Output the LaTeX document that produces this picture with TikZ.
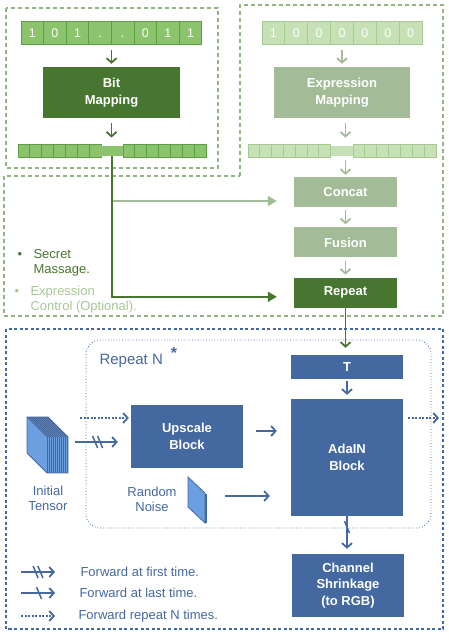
\documentclass[tikz,border=0pt]{standalone}
\usepackage{fontspec}
\setmainfont{Liberation Sans}
\usetikzlibrary{positioning,calc,arrows.meta}
\definecolor{darkgreen}{HTML}{46762F}
\definecolor{bitgreen}{HTML}{8CC46E}
\definecolor{bitedge}{HTML}{5E9E44}
\definecolor{exprgreen}{HTML}{C7E1B6}
\definecolor{expredge}{HTML}{A6CB92}
\definecolor{mapgreen}{HTML}{A3BC97}
\definecolor{dashgreen}{HTML}{93B582}
\definecolor{legendgreen}{HTML}{A6C795}
\definecolor{netblue}{HTML}{4468A0}
\definecolor{skyblue}{HTML}{6C9FE0}
\tikzset{
  box/.style={rectangle,inner sep=0,text=white,align=center,font=\fontsize{13}{16.5}\selectfont\bfseries},
  bitbox/.style={box,fill=darkgreen},
  exprbox/.style={box,fill=mapgreen},
  bluebox/.style={box,fill=netblue},
  % cells of the input codes
  bitcell/.style={rectangle,draw=bitedge,fill=bitgreen,line width=1pt,inner sep=0,minimum height=23,
                  text height=8.6pt,text depth=0pt,text=white,font=\fontsize{12.5}{12.5}\selectfont},
  exprcell/.style={bitcell,draw=expredge,fill=exprgreen},
  % cells of the mapped vectors
  bitslot/.style={rectangle,draw=bitedge,fill=bitgreen,line width=0.8pt,inner sep=0,minimum width=11.86,minimum height=13},
  exprslot/.style={bitslot,draw=expredge,fill=exprgreen},
  midslot/.style={rectangle,inner sep=0,minimum width=22,minimum height=10},
  greendash/.style={draw=dashgreen,line width=1.6pt,dash pattern=on 4pt off 3pt},
  bluedash/.style={draw=netblue,line width=1.6pt,dash pattern=on 3pt off 2.5pt},
  loopbox/.style={draw=netblue,line width=0.8pt,dotted,rounded corners=14pt},
  garrow/.style={-{Straight Barb[length=4.5pt,width=10pt]},line width=1.8pt,draw=darkgreen},
  larrow/.style={-{Straight Barb[length=4.5pt,width=10pt]},line width=1.8pt,draw=mapgreen},
  gline/.style={-{Triangle[length=9pt,width=10pt]},line width=1.8pt,draw=darkgreen},
  lline/.style={-{Triangle[length=9pt,width=10pt]},line width=1.8pt,draw=mapgreen},
  barrow/.style={-{Straight Barb[length=4.5pt,width=10pt]},line width=1.8pt,draw=netblue},
  dotarrow/.style={barrow,dash pattern=on 2pt off 1.5pt},
  bluetext/.style={text=netblue,font=\fontsize{13}{15}\selectfont},
  cutmark/.pic={\draw[line width=1.5pt,netblue] (-2.5,-6) -- (2.5,6);},
}
\begin{document}
\begin{tikzpicture}[x=1pt,y=-1pt]
  \useasboundingbox (0,0) rectangle (449,642);
  % regions
  \draw[greendash] (6,8) rectangle (218,168);
  \draw[greendash] (240,176) -- (240,5) -- (443,5) -- (443,316) -- (4,316) -- (4,176) -- cycle;
  \draw[bluedash] (6,329) rectangle (443,629);
  \draw[loopbox] (86,340) rectangle (431,528);
  % secret message branch
  \foreach \d [count=\i] in {1,0,1,.,.,0,1,1}
    \node[bitcell,minimum width=22.6] (s\i) at (9.7+22.6*\i,33.5) {\d};
  \node[bitbox,minimum width=137,minimum height=51] (bitmap) at (111.5,92.5) {Bit\\Mapping};
  \foreach \i in {1,...,7} {
    \node[bitslot] (sl\i) at (12.07+11.86*\i,150.5) {};
    \node[bitslot] (sr\i) at (117.07+11.86*\i,150.5) {};
  }
  \node[midslot,fill=bitgreen] (sm) at (112,151) {};
  \draw[garrow,shorten <=5pt,shorten >=3pt] (bitmap.north |- s1.south) -- (bitmap.north);
  \draw[garrow,shorten <=5pt,shorten >=6pt] (bitmap.south) -- (bitmap.south |- sl1.north);
  % expression branch
  \foreach \d [count=\i] in {1,0,0,0,0,0,0}
    \node[exprcell,minimum width=22.86] (e\i) at (250.57+22.86*\i,33.5) {\d};
  \node[exprbox,minimum width=136,minimum height=51] (exprmap) at (342,92.5) {Expression\\Mapping};
  \foreach \i in {1,...,7} {
    \node[exprslot,minimum width=11.79] (el\i) at (242.1+11.79*\i,150.5) {};
    \node[exprslot] (er\i) at (347.07+11.86*\i,150.5) {};
  }
  \node[midslot,minimum width=22.5,fill=exprgreen] (em) at (341.75,151) {};
  \node[exprbox,minimum width=103,minimum height=30] (concat) at (345.5,192) {Concat};
  \node[exprbox,minimum width=103,minimum height=30,below=20pt of concat] (fusion) {Fusion};
  \node[bitbox,minimum width=103,minimum height=30,below=20pt of fusion] (repeat) {Repeat};
  \draw[larrow,shorten <=5pt,shorten >=3pt] (exprmap.north |- e1.south) -- (exprmap.north);
  \draw[larrow,shorten <=5pt,shorten >=6pt] (concat.north |- exprmap.south) -- (concat.north |- el1.north);
  \draw[larrow,shorten <=3pt,shorten >=2pt] (concat.north |- el1.south) -- (concat.north);
  \draw[larrow,shorten <=3pt,shorten >=3pt] (concat) -- (fusion);
  \draw[larrow,shorten <=3pt,shorten >=3pt] (fusion) -- (repeat);
  \draw[lline,shorten >=17pt] ([yshift=-9pt]concat.west -| sm.south) -- ([yshift=-9pt]concat.west);
  \draw[gline,shorten >=17pt] (sm.south) |- ([yshift=-4pt]repeat.west);
  % legend of the two branches
  \node[text=darkgreen,font=\fontsize{13}{15}\selectfont] (dot1) at (20,255) {•};
  \node[text=darkgreen,font=\fontsize{13}{15}\selectfont,anchor=west,align=left] (secret) at (30,262.5) {Secret\\Massage.};
  \node[text=legendgreen,font=\fontsize{13}{15}\selectfont] (dot2) at (17,292) {•};
  \node[text=legendgreen,font=\fontsize{13}{15}\selectfont,anchor=west,align=left] (expr) at (27,300) {Expression\\Control (Optional).};
  % generator
  \node[bluebox,minimum width=112,minimum height=24] (tbox) at (347,367) {T};
  \node[bluebox,minimum width=112,minimum height=117] (adain) at (347,457.5) {AdaIN\\Block};
  \node[bluebox,minimum width=112,minimum height=63] (upscale) at (187,436.5) {Upscale\\Block};
  \node[bluebox,minimum width=112,minimum height=63] (shrink) at (348,585.5) {Channel\\Shrinkage\\(to RGB)};
  \node[text=netblue,font=\fontsize{15}{15}\selectfont,anchor=west] (loopname) at (96,361) {Repeat N};
  \node[text=netblue,font=\fontsize{16}{16}\selectfont\bfseries] (star) at (174,353) {*};
  \draw[garrow,shorten >=7pt] (repeat.south) -- (repeat.south |- tbox.north);
  \draw[barrow,shorten <=2pt,shorten >=4pt] (tbox) -- (adain);
  \draw[barrow,shorten <=13pt,shorten >=14pt] ([yshift=5.5pt]upscale.east) -- ([yshift=5.5pt]upscale.east -| adain.west);
  % initial tensor
  \node[inner sep=0,minimum width=41,minimum height=56] (tensor) at (47.5,445) {};
  \fill[skyblue] (27,417) -- (47,437) -- (47,473) -- (27,453) -- cycle;
  \fill[netblue!85] (27,417) -- (48,417) -- (68,437) -- (47,437) -- cycle;
  \fill[skyblue] (47,437) rectangle (68,473);
  \foreach \k in {0,...,10} {
    \draw[netblue,line width=0.6pt] (47+2*\k,437) -- (47+2*\k,473);
    \draw[netblue,line width=0.6pt] (27+2*\k,417) -- (47+2*\k,437);
  }
  \draw[netblue,line width=0.8pt] (27,417) -- (48,417) -- (68,437) -- (68,473) -- (47,473) -- (27,453) -- cycle;
  \node[bluetext,align=center] (tensorlab) at (48,498.5) {Initial\\Tensor};
  % random noise
  \draw[netblue,fill=skyblue,line width=0.8pt] (188,477) -- (205,493) -- (205,523) -- (188,507) -- cycle;
  \draw[netblue,line width=2pt] (206,494) -- (206,523);
  \coordinate (noise) at (206,496);
  \node[bluetext,align=center] (noiselab) at (152,499) {Random\\Noise};
  \draw[barrow,shorten <=19pt,shorten >=21pt] (noise) -- (noise -| adain.west);
  % forward paths
  \draw[barrow,shorten <=7pt,shorten >=13pt] ([yshift=3pt]tensor.east) -- coordinate[pos=0.43] (cut1) coordinate[pos=0.51] (cut2) ([yshift=3pt]tensor.east -| upscale.west);
  \pic at (cut1) {cutmark};
  \pic at (cut2) {cutmark};
  \coordinate (loopin) at (80,418);
  \coordinate (loopout) at (439,418);
  \draw[dotarrow,shorten >=2pt] (loopin) -- (loopin -| upscale.west);
  \draw[dotarrow,shorten <=5pt] (loopout -| adain.east) -- (loopout);
  \draw[barrow,shorten >=5pt] (adain.south) -- coordinate[pos=0.29] (cut3) (adain.south |- shrink.north);
  \pic at (cut3) {cutmark};
  % legend of the arrows
  \coordinate (first) at (21,572);
  \coordinate (last) at (21,593);
  \coordinate (every) at (21,616);
  \draw[barrow] (first) -- coordinate[pos=0.43] (cut4) coordinate[pos=0.57] (cut5) ++(34,0);
  \pic at (cut4) {cutmark};
  \pic at (cut5) {cutmark};
  \draw[barrow] (last) -- coordinate[pos=0.53] (cut6) ++(34,0);
  \pic at (cut6) {cutmark};
  \draw[dotarrow] (every) -- ++(34,0);
  \node[bluetext,anchor=west] (firstlab) at (77,572) {Forward at first time.};
  \node[bluetext,anchor=west] (lastlab) at (76,593) {Forward at last time.};
  \node[bluetext,anchor=west] (everylab) at (75,616) {Forward repeat N times.};
\end{tikzpicture}
\end{document}
